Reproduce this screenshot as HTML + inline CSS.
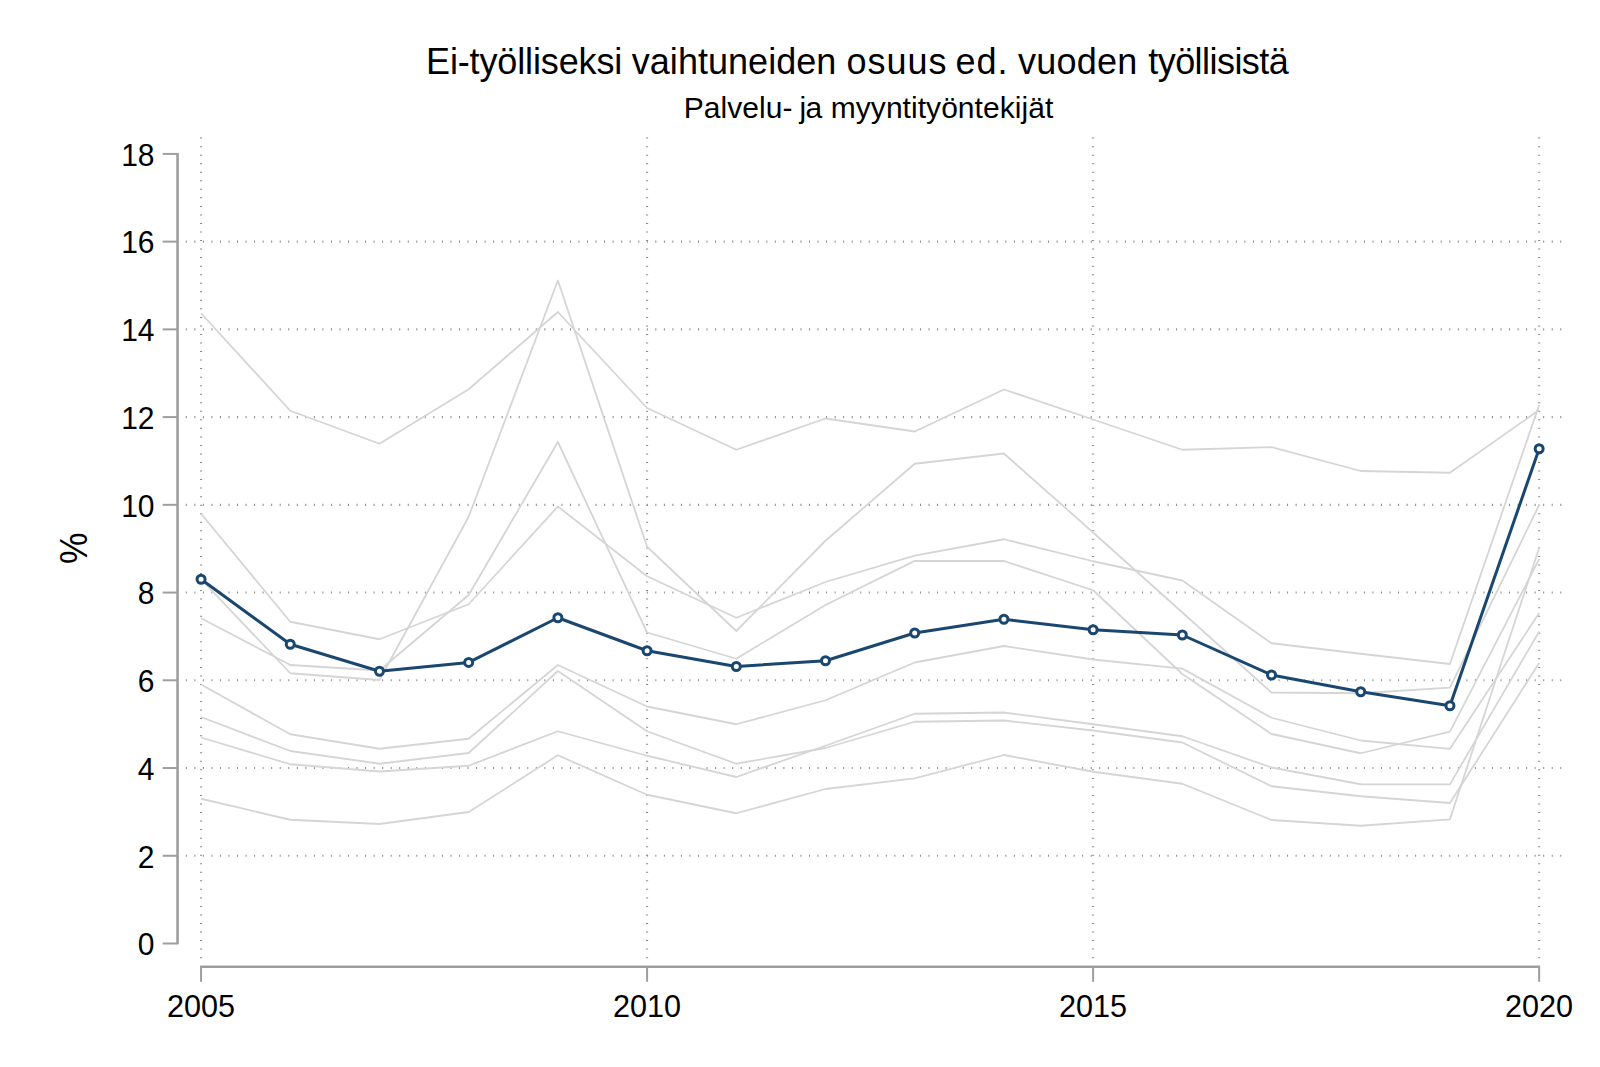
<!DOCTYPE html>
<html lang="fi"><head><meta charset="utf-8"><title>Ei-työlliseksi vaihtuneiden osuus</title>
<style>
html,body{margin:0;padding:0;background:#fff;}
body{width:1600px;height:1067px;overflow:hidden;}
svg{display:block;}
text{font-family:"Liberation Sans",sans-serif;fill:#000;}
</style></head><body>
<svg width="1600" height="1067" viewBox="0 0 1600 1067">
<rect width="1600" height="1067" fill="#ffffff"/>

<g stroke="#8a8a8a" stroke-width="2.1" fill="none" stroke-dasharray="1 7.537">
<line x1="185.8" y1="855.77" x2="1561.6" y2="855.77"/>
<line x1="185.8" y1="768.03" x2="1561.6" y2="768.03"/>
<line x1="185.8" y1="680.30" x2="1561.6" y2="680.30"/>
<line x1="185.8" y1="592.57" x2="1561.6" y2="592.57"/>
<line x1="185.8" y1="504.83" x2="1561.6" y2="504.83"/>
<line x1="185.8" y1="417.10" x2="1561.6" y2="417.10"/>
<line x1="185.8" y1="329.37" x2="1561.6" y2="329.37"/>
<line x1="185.8" y1="241.63" x2="1561.6" y2="241.63"/>
<line x1="201.05" y1="137.6" x2="201.05" y2="958.4"/>
<line x1="647.08" y1="137.6" x2="647.08" y2="958.4"/>
<line x1="1093.12" y1="137.6" x2="1093.12" y2="958.4"/>
<line x1="1539.15" y1="137.6" x2="1539.15" y2="958.4"/>
</g>
<g stroke="#d5d5d5" stroke-width="1.8" fill="none" stroke-linejoin="round" stroke-linecap="butt">
<polyline points="201.05,313.25 290.26,410.75 379.46,443.75 468.67,389.25 557.88,312.00 647.08,408.00 736.29,449.75 825.50,418.50 914.70,431.50 1003.91,389.50 1093.12,419.50 1182.32,449.75 1271.53,447.10 1360.74,471.00 1449.94,472.75 1539.15,410.00"/>
<polyline points="201.05,513.75 290.26,621.75 379.46,639.25 468.67,604.25 557.88,506.50 647.08,576.25 736.29,617.75 825.50,582.00 914.70,555.60 1003.91,539.25 1093.12,561.25 1182.32,580.50 1271.53,643.25 1360.74,653.75 1449.94,664.00 1539.15,405.00"/>
<polyline points="201.05,579.25 290.26,673.25 379.46,680.00 468.67,516.75 557.88,280.50 647.08,546.75 736.29,631.00 825.50,540.75 914.70,463.75 1003.91,453.50 1093.12,532.50 1182.32,612.50 1271.53,692.50 1360.74,693.25 1449.94,687.70 1539.15,505.00"/>
<polyline points="201.05,618.25 290.26,665.00 379.46,670.50 468.67,595.00 557.88,442.00 647.08,632.50 736.29,658.75 825.50,605.00 914.70,560.90 1003.91,561.00 1093.12,590.25 1182.32,674.00 1271.53,734.00 1360.74,753.25 1449.94,731.60 1539.15,559.20"/>
<polyline points="201.05,684.50 290.26,734.25 379.46,748.75 468.67,738.75 557.88,665.00 647.08,706.50 736.29,724.25 825.50,700.25 914.70,662.50 1003.91,646.00 1093.12,659.50 1182.32,668.60 1271.53,717.75 1360.74,740.50 1449.94,748.85 1539.15,613.00"/>
<polyline points="201.05,717.00 290.26,751.00 379.46,763.75 468.67,753.00 557.88,671.00 647.08,731.25 736.29,763.75 825.50,748.00 914.70,721.75 1003.91,720.50 1093.12,730.50 1182.32,742.50 1271.53,786.25 1360.74,796.25 1449.94,803.00 1539.15,663.00"/>
<polyline points="201.05,737.50 290.26,764.25 379.46,771.50 468.67,765.75 557.88,731.25 647.08,755.75 736.29,777.00 825.50,745.75 914.70,713.75 1003.91,712.50 1093.12,724.25 1182.32,736.25 1271.53,767.50 1360.74,784.25 1449.94,784.40 1539.15,631.50"/>
<polyline points="201.05,798.75 290.26,819.75 379.46,824.00 468.67,812.00 557.88,755.25 647.08,794.75 736.29,813.25 825.50,789.00 914.70,778.40 1003.91,755.00 1093.12,771.75 1182.32,783.75 1271.53,820.00 1360.74,825.75 1449.94,819.30 1539.15,548.00"/>
</g>
<polyline points="201.05,579.25 290.26,644.25 379.46,671.25 468.67,662.40 557.88,617.75 647.08,650.75 736.29,666.50 825.50,660.75 914.70,633.00 1003.91,619.25 1093.12,629.75 1182.32,635.00 1271.53,675.00 1360.74,691.75 1449.94,705.75 1539.15,448.75" stroke="#1a476f" stroke-width="3.0" fill="none" stroke-linejoin="round"/>
<g stroke="#1a476f" stroke-width="3.0" fill="#ffffff">
<circle cx="201.05" cy="579.25" r="4.0"/>
<circle cx="290.26" cy="644.25" r="4.0"/>
<circle cx="379.46" cy="671.25" r="4.0"/>
<circle cx="468.67" cy="662.40" r="4.0"/>
<circle cx="557.88" cy="617.75" r="4.0"/>
<circle cx="647.08" cy="650.75" r="4.0"/>
<circle cx="736.29" cy="666.50" r="4.0"/>
<circle cx="825.50" cy="660.75" r="4.0"/>
<circle cx="914.70" cy="633.00" r="4.0"/>
<circle cx="1003.91" cy="619.25" r="4.0"/>
<circle cx="1093.12" cy="629.75" r="4.0"/>
<circle cx="1182.32" cy="635.00" r="4.0"/>
<circle cx="1271.53" cy="675.00" r="4.0"/>
<circle cx="1360.74" cy="691.75" r="4.0"/>
<circle cx="1449.94" cy="705.75" r="4.0"/>
<circle cx="1539.15" cy="448.75" r="4.0"/>
</g>
<g stroke="#9e9e9e" fill="none">
<line x1="177.55" y1="153.05" x2="177.55" y2="944.35" stroke-width="2.6"/>
<line x1="162.7" y1="943.50" x2="177.5" y2="943.50" stroke-width="2.0"/>
<line x1="162.7" y1="855.77" x2="177.5" y2="855.77" stroke-width="2.0"/>
<line x1="162.7" y1="768.03" x2="177.5" y2="768.03" stroke-width="2.0"/>
<line x1="162.7" y1="680.30" x2="177.5" y2="680.30" stroke-width="2.0"/>
<line x1="162.7" y1="592.57" x2="177.5" y2="592.57" stroke-width="2.0"/>
<line x1="162.7" y1="504.83" x2="177.5" y2="504.83" stroke-width="2.0"/>
<line x1="162.7" y1="417.10" x2="177.5" y2="417.10" stroke-width="2.0"/>
<line x1="162.7" y1="329.37" x2="177.5" y2="329.37" stroke-width="2.0"/>
<line x1="162.7" y1="241.63" x2="177.5" y2="241.63" stroke-width="2.0"/>
<line x1="162.7" y1="153.90" x2="177.5" y2="153.90" stroke-width="2.0"/>
<line x1="200.10" y1="966.8" x2="1540.10" y2="966.8" stroke-width="2.5"/>
<line x1="201.05" y1="966.8" x2="201.05" y2="981.8" stroke-width="2.0"/>
<line x1="647.08" y1="966.8" x2="647.08" y2="981.8" stroke-width="2.0"/>
<line x1="1093.12" y1="966.8" x2="1093.12" y2="981.8" stroke-width="2.0"/>
<line x1="1539.15" y1="966.8" x2="1539.15" y2="981.8" stroke-width="2.0"/>
</g>
<g font-size="30px" text-anchor="end">
<text transform="translate(154.5,955.25) scale(1,1.05)">0</text>
<text transform="translate(154.5,867.52) scale(1,1.05)">2</text>
<text transform="translate(154.5,779.78) scale(1,1.05)">4</text>
<text transform="translate(154.5,692.05) scale(1,1.05)">6</text>
<text transform="translate(154.5,604.32) scale(1,1.05)">8</text>
<text transform="translate(154.5,516.58) scale(1,1.05)">10</text>
<text transform="translate(154.5,428.85) scale(1,1.05)">12</text>
<text transform="translate(154.5,341.12) scale(1,1.05)">14</text>
<text transform="translate(154.5,253.38) scale(1,1.05)">16</text>
<text transform="translate(154.5,165.65) scale(1,1.05)">18</text>
</g>
<g font-size="30px" text-anchor="middle">
<text transform="translate(200.95,1016.6) scale(1.02,1.045)">2005</text>
<text transform="translate(646.98,1016.6) scale(1.02,1.045)">2010</text>
<text transform="translate(1093.02,1016.6) scale(1.02,1.045)">2015</text>
<text transform="translate(1539.05,1016.6) scale(1.02,1.045)">2020</text>
</g>
<text y="73.7" font-size="36px"><tspan x="426.00" style="letter-spacing:-0.135px">Ei-työlliseksi</tspan> <tspan x="631.75" style="letter-spacing:0.036px">vaihtuneiden</tspan> <tspan x="846.50" style="letter-spacing:0.962px">osuus</tspan> <tspan x="955.50" style="letter-spacing:0.950px">ed.</tspan> <tspan x="1018.00" style="letter-spacing:0.220px">vuoden</tspan> <tspan x="1148.25" style="letter-spacing:-0.550px">työllisistä</tspan></text>
<text y="118.3" font-size="30px"><tspan x="683.75" style="letter-spacing:0.036px">Palvelu-</tspan> <tspan x="799.50" style="letter-spacing:-0.750px">ja</tspan> <tspan x="830.75" style="letter-spacing:0.047px">myyntityöntekijät</tspan></text>
<text transform="translate(87.2,564.1) rotate(-90) scale(0.985,1.09)" font-size="36px">%</text>
</svg>
</body></html>
